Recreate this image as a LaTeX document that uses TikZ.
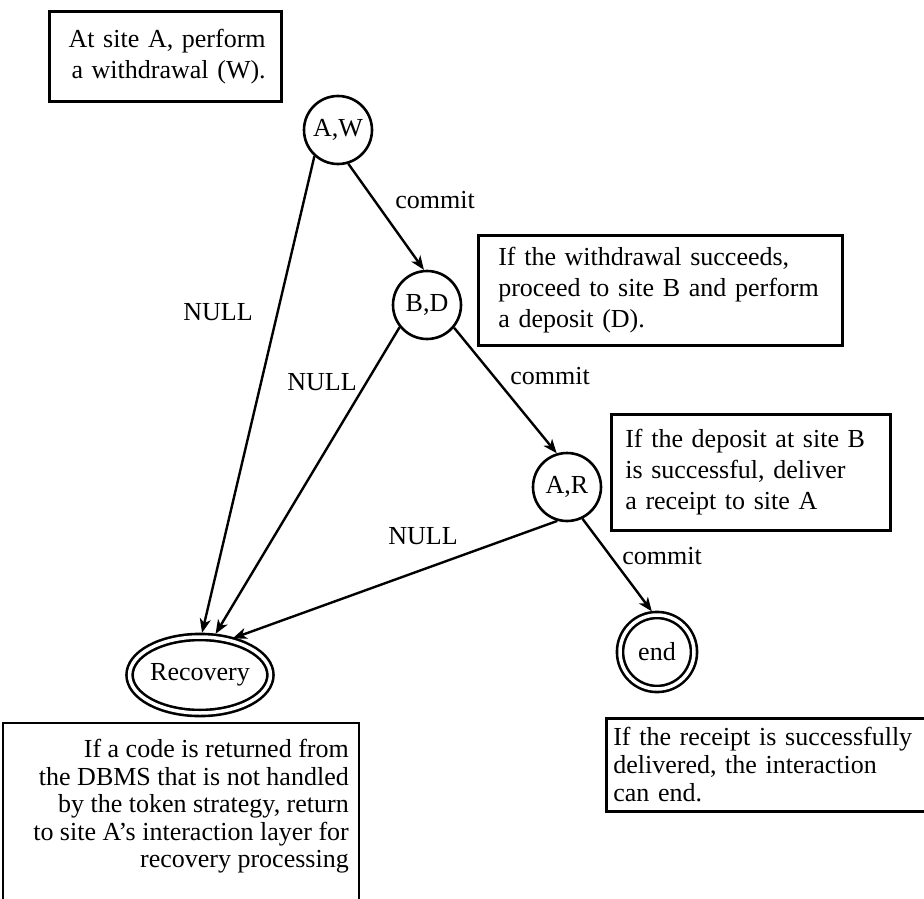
\documentclass[tikz,border=0pt]{standalone}
\usepackage{fontspec}
\setmainfont{Liberation Serif}
\usetikzlibrary{shapes.geometric,arrows.meta}
\begin{document}
\begin{tikzpicture}[
  x=1pt, y=1pt,
  font=\fontsize{26}{31}\selectfont,
  line width=2.4pt,
  sitenode/.style={circle, draw, line width=2.6pt, minimum size=68pt, inner sep=0pt},
  finalnode/.style={draw, double, double distance=3.5pt, line width=2.6pt, inner sep=0pt},
  notebox/.style={draw, rectangle, line width=2.6pt, align=left, inner ysep=0pt, anchor=north west},
  arr/.style={-{Stealth[length=14pt,width=11pt,inset=4pt]}},
]
\useasboundingbox (0,0) rectangle (924,-899);
% sites of the token
\node[sitenode] (aw) at (338,-130) {A,W};
\node[sitenode] (bd) at (427,-305) {B,D};
\node[sitenode] (ar) at (567,-487) {A,R};
\node[finalnode, ellipse, minimum width=135pt, minimum height=76pt] (rec) at (200,-675) {Recovery};
\node[finalnode, circle, minimum size=74pt] (fin) at (657,-652) {end};
% notes
\node[notebox, anchor=north east, align=right, text width=200pt, inner xsep=16pt, minimum height=90pt] (awnote) at (283,-10)
  {At site A, perform\\a withdrawal (W).};
\node[notebox, text width=324pt, inner xsep=20pt, minimum height=110pt] (bdnote) at (477,-234)
  {If the withdrawal succeeds,\\proceed to site B and perform\\a deposit (D).};
\node[notebox, text width=251pt, inner xsep=14pt, minimum height=116pt] (arnote) at (610,-413)
  {If the deposit at site B\\is successful, deliver\\a receipt to site A};
\node[notebox, text width=330pt, inner xsep=7pt, minimum height=93pt,
  font=\fontsize{26}{28}\selectfont] (finnote) at (605,-717)
  {If the receipt is successfully\\delivered, the interaction\\can end.};
\draw[line width=2.6pt] (3,-910) |- (359,-723) -- (359,-910);
\node[anchor=north east, align=right, inner sep=0pt, font=\fontsize{26}{27.5}\selectfont] (recnote) at (350,-738)
  {If a code is returned from\\the DBMS that is not handled\\by the token strategy, return\\to site A's interaction layer for\\recovery processing};
% transitions
\draw[arr, shorten >=3pt] (aw.228) -- (rec.88);
\draw[arr] (aw.-73) -- (bd.95);
\draw[arr, shorten >=3pt] (bd.219) -- (rec.70);
\draw[arr] (bd.-40) -- (ar.107);
\draw[arr, shorten >=3pt] (ar.254) -- (rec.50);
\draw[arr, shorten >=3pt] (ar.-64) -- (fin.95);
\node (cmaw) at (435,-200) {commit};
\node (nlaw) at (218,-312) {NULL};
\node (cmbd) at (550,-376) {commit};
\node (nlbd) at (322,-382) {NULL};
\node (nlar) at (423,-536) {NULL};
\node (cmar) at (662,-556) {commit};
\end{tikzpicture}
\end{document}
